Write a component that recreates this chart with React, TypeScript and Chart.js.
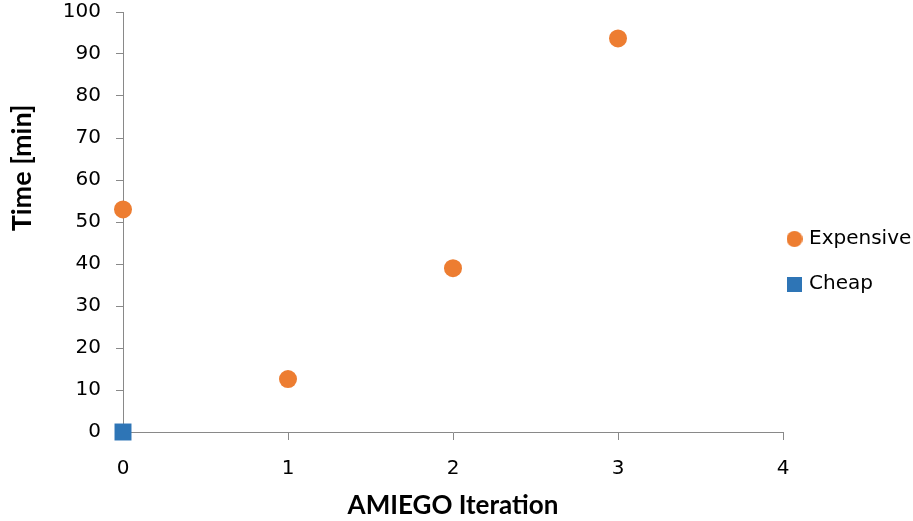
import React, { useEffect, useRef } from 'react';
import { Chart, registerables } from 'chart.js';

Chart.register(...registerables);

// Data
const expensiveIterations = [0, 1, 2, 3];
const expensiveTimes = [53, 12.6, 39, 93.7];
const cheapIterations = [0];
const cheapTimes = [0];
const seriesLabels = ['Expensive', 'Cheap'];
const xAxisTitle = 'AMIEGO Iteration';
const yAxisTitle = 'Time [min]';
const xRange = [0, 4];
const yRange = [0, 100];

const FONT = '"DejaVu Sans", sans-serif';
const TITLE_FONT = 'Lato, "DejaVu Sans", sans-serif';
const AXIS_COLOR = '#898989';
const ORANGE = '#ED7D31';
const BLUE = '#2E75B6';

function makeSymbol(kind: 'circle' | 'square', size: number, color: string) {
  const c = document.createElement('canvas');
  c.width = size;
  c.height = size;
  const ctx = c.getContext('2d')!;
  ctx.fillStyle = color;
  if (kind === 'circle') {
    ctx.beginPath();
    ctx.arc(size / 2, size / 2, size / 2, 0, Math.PI * 2);
    ctx.fill();
  } else {
    ctx.fillRect(0, 0, size, size);
  }
  return c;
}

const yTitlePlugin = {
  id: 'yTitlePlugin',
  afterDraw(chart: any) {
    const ctx = chart.ctx;
    ctx.save();
    ctx.translate(22, 168);
    ctx.rotate(-Math.PI / 2);
    ctx.font = `bold 27px ${TITLE_FONT}`;
    ctx.fillStyle = '#000';
    ctx.textAlign = 'center';
    ctx.textBaseline = 'middle';
    ctx.fillText(yAxisTitle, 0, 0);
    ctx.restore();
  },
};

const legendPlacePlugin = {
  id: 'legendPlacePlugin',
  afterLayout(chart: any) {
    const l = chart.legend;
    if (!l) return;
    const pad = l.options.labels.padding;
    l.left = 790 - pad;
    l.right = chart.width;
    l.width = l.right - l.left;
    l.top -= 5;
    l.bottom -= 5;
  },
};

export default function App() {
  const canvasRef = useRef<HTMLCanvasElement | null>(null);

  useEffect(() => {
    const canvas = canvasRef.current;
    if (!canvas) return;
    const legendSymbols = [makeSymbol('circle', 16, ORANGE), makeSymbol('square', 15, BLUE)];
    const chart = new Chart(canvas, {
      type: 'scatter',
      data: {
        datasets: [
          {
            label: seriesLabels[0],
            data: expensiveIterations.map((x, i) => ({ x, y: expensiveTimes[i] })),
            backgroundColor: ORANGE,
            borderColor: ORANGE,
            pointStyle: 'circle',
            pointRadius: 9,
            pointHoverRadius: 9,
            borderWidth: 0,
            clip: false,
          },
          {
            label: seriesLabels[1],
            data: cheapIterations.map((x, i) => ({ x, y: cheapTimes[i] })),
            backgroundColor: BLUE,
            borderColor: BLUE,
            pointStyle: 'rect',
            pointRadius: 12,
            pointHoverRadius: 12,
            borderWidth: 0,
            clip: false,
          },
        ],
      },
      options: {
        animation: false,
        responsive: false,
        maintainAspectRatio: false,
        layout: { padding: { top: 12, left: 0, right: 0, bottom: 0 } },
        plugins: {
          tooltip: { enabled: false },
          legend: {
            position: 'right',
            maxWidth: 130,
            labels: {
              usePointStyle: true,
              boxWidth: 9,
              boxHeight: 12,
              padding: 25,
              color: '#000',
              font: { family: FONT, size: 20 },
              generateLabels(chart: any) {
                const items = (Chart.defaults as any).plugins.legend.labels.generateLabels(chart);
                items.forEach((it: any, i: number) => {
                  it.pointStyle = legendSymbols[i];
                });
                return items;
              },
            },
          },
        },
        scales: {
          x: {
            type: 'linear',
            min: xRange[0],
            max: xRange[1],
            afterFit(scale: any) {
              scale.height = 89;
              scale.paddingLeft = 0;
              scale.paddingRight = 0;
            },
            border: { display: true, color: AXIS_COLOR, width: 1 },
            grid: {
              display: true,
              drawOnChartArea: false,
              drawTicks: true,
              tickLength: 8,
              color: AXIS_COLOR,
            },
            ticks: {
              stepSize: 1,
              padding: 17,
              color: '#000',
              font: { family: FONT, size: 20 },
            },
            title: {
              display: true,
              text: xAxisTitle,
              color: '#000',
              font: { family: TITLE_FONT, size: 26, weight: 'bold' },
              padding: { top: 0, bottom: 0 },
            },
          },
          y: {
            type: 'linear',
            min: yRange[0],
            max: yRange[1],
            afterFit(scale: any) {
              scale.width = 123;
              scale.paddingTop = 0;
              scale.paddingBottom = 0;
            },
            border: { display: true, color: AXIS_COLOR, width: 1 },
            grid: {
              display: true,
              drawOnChartArea: false,
              drawTicks: true,
              tickLength: 7,
              color: AXIS_COLOR,
            },
            ticks: {
              stepSize: 10,
              padding: 15,
              color: '#000',
              font: { family: FONT, size: 20 },
            },
          },
        },
      },
      plugins: [yTitlePlugin, legendPlacePlugin],
    } as any);
    return () => chart.destroy();
  }, []);

  return (
    <div style={{ position: 'fixed', left: 0, top: 0, width: 913, height: 521, background: '#fff' }}>
      <canvas ref={canvasRef} width={913} height={521} style={{ display: 'block', width: 913, height: 521 }} />
    </div>
  );
}
